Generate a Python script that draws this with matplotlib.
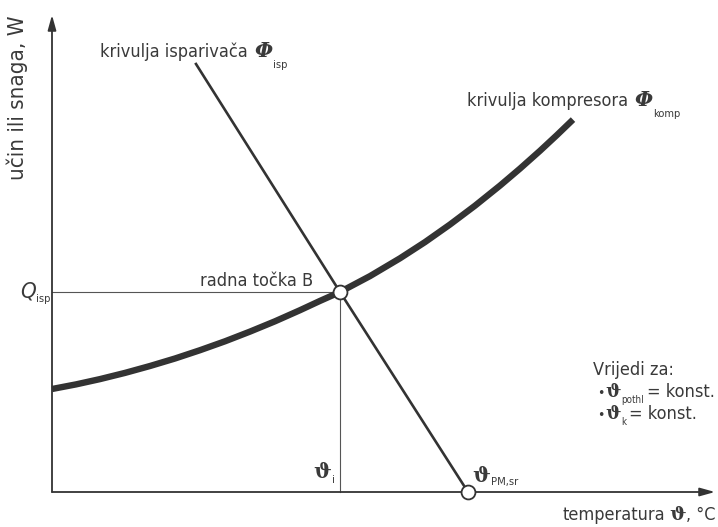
import numpy as np
import matplotlib.pyplot as plt

# compressor curve (thick); origin at the axis corner
comp_x = [0, 24, 48, 73, 98, 123, 148, 173, 198, 223, 248, 268, 288,
          318, 348, 373, 398, 423, 448, 468, 488, 505, 521]
comp_y = [103, 107.6, 112.9, 119.1, 126, 133.5, 141.8, 150.7, 160.4, 170.7, 181.8, 191.1, 200,
          215.9, 233.7, 249.9, 267.5, 286.3, 306.4, 323.4, 341.2, 357, 372.4]

# evaporator line
evap_x = [144, 288, 416]
evap_y = [428, 200, 0]

# operating point B and evaporator temperature on the axis
B = (288, 200)
PM = (416, 0)

txt = '#3a3a3a'
ln = '#333333'
sans = dict(family=['DejaVu Sans'], stretch='condensed', color=txt)
serif = dict(family=['DejaVu Serif'], weight='bold', color=txt)
fs = 13
fsub = 8

fig = plt.figure(figsize=(7.18, 5.27), dpi=100)
ax = fig.add_axes([0, 0, 1, 1])
ax.set_xlim(-52, 666)
ax.set_ylim(-35, 492)
ax.axis('off')


def after(t, y, s, dx=2, **kw):
    # put a text right after another one (x taken from its extent)
    return ax.annotate(s, xy=(1, y), xycoords=(t, 'data'), xytext=(dx, 0),
                       textcoords='offset points', va='baseline', **kw)


def before(t, y, s, dx=2, **kw):
    return ax.annotate(s, xy=(0, y), xycoords=(t, 'data'), xytext=(-dx, 0),
                       textcoords='offset points', va='baseline', ha='right', **kw)


# axes with arrows
arr = dict(arrowstyle='-|>,head_length=0.9,head_width=0.25', color=ln, lw=1.3, shrinkA=0, shrinkB=0)
ax.annotate('', xy=(663, 0), xytext=(0, 0), arrowprops=arr)
ax.annotate('', xy=(0, 477), xytext=(0, 0), arrowprops=arr)

# guide lines
ax.plot([0, B[0]], [B[1], B[1]], color='#555555', lw=0.8)
ax.plot([B[0], B[0]], [0, B[1]], color='#555555', lw=0.8)

# curves
ax.plot(comp_x, comp_y, color=ln, lw=4.6, solid_capstyle='butt', solid_joinstyle='round')
ax.plot(evap_x, evap_y, color=ln, lw=1.9)

ax.plot(*B, 'o', ms=10, mfc='white', mec=ln, mew=1.3, zorder=5)
ax.plot(*PM, 'o', ms=10, mfc='white', mec=ln, mew=1.3, zorder=5, clip_on=False)

# texts
ax.text(-35, 477, 'učin ili snaga, W', rotation=90, ha='center', va='top', fontsize=16, **sans)

t = ax.text(48, 435, 'krivulja isparivača', fontsize=fs, va='baseline', **sans)
t = after(t, 435, 'Φ', dx=5, fontsize=15, style='italic', **serif)
after(t, 424, 'isp', dx=0, fontsize=fsub, **sans)

t = ax.text(415, 386, 'krivulja kompresora', fontsize=fs, va='baseline', **sans)
t = after(t, 386, 'Φ', dx=5, fontsize=15, style='italic', **serif)
after(t, 375, 'komp', dx=0, fontsize=fsub, **sans)

ax.text(261, 206, 'radna točka B', fontsize=fs, ha='right', va='baseline', **sans)

t = ax.text(-32, 195, 'Q', fontsize=16, style='italic', va='baseline', **sans)
after(t, 190, 'isp', dx=0, fontsize=fsub, **sans)

t = ax.text(261, 14, 'ϑ', fontsize=15, va='baseline', **serif)
after(t, 9, 'i', dx=1, fontsize=fsub, **sans)

t = ax.text(420, 10, 'ϑ', fontsize=15, va='baseline', **serif)
after(t, 7, 'PM,sr', dx=1, fontsize=fsub, **sans)

t = ax.text(663, -28, ', °C', fontsize=fs, ha='right', va='baseline', **sans)
t = before(t, -28, 'ϑ', dx=0, fontsize=14, **serif)
before(t, -28, 'temperatura', dx=3, fontsize=fs, **sans)

ax.text(541, 117, 'Vrijedi za:', fontsize=fs, va='baseline', **sans)
for yb, sub in [(95, 'pothl'), (73, 'k')]:
    t = ax.text(545, yb, '•', fontsize=10, va='baseline', **sans)
    t = after(t, yb, 'ϑ', dx=1, fontsize=13, **serif)
    t = after(t, yb - 6, sub, dx=0, fontsize=7, **sans)
    after(t, yb, '= konst.', dx=2, fontsize=fs, **sans)

fig.savefig('out.png', dpi=100)
